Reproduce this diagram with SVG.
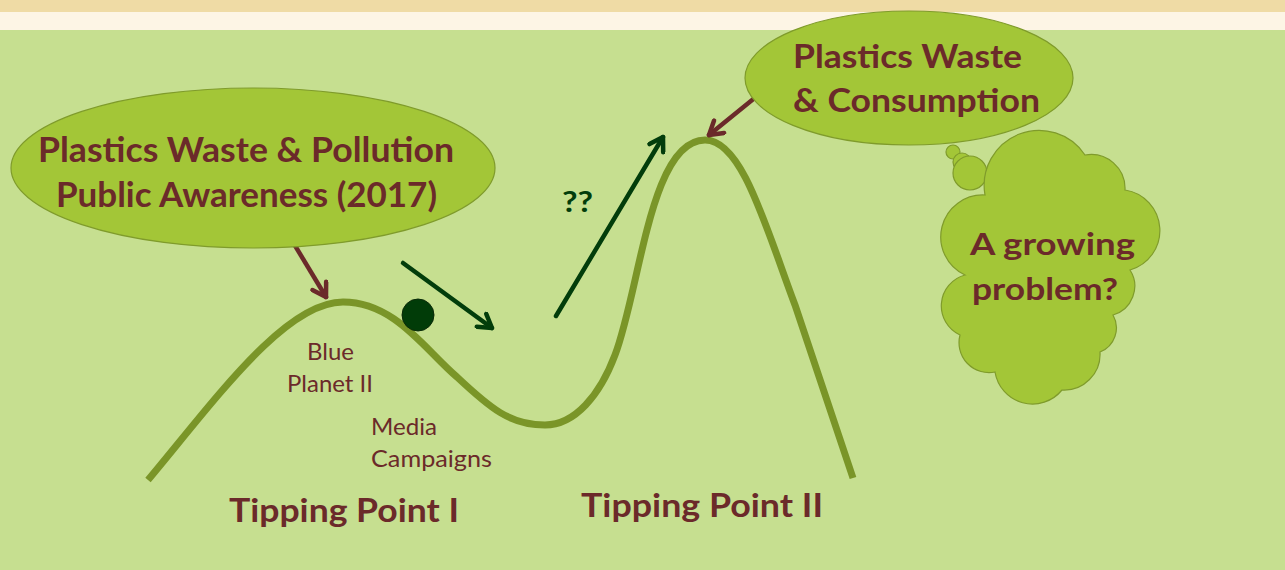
<svg xmlns="http://www.w3.org/2000/svg" width="1285" height="570" viewBox="0 0 1285 570">
<style>
.bubble{fill:#a3c637;stroke:#7f9b2b;stroke-width:1.2}
.lbl{font-family:Lato,"Open Sans",sans-serif;font-weight:bold;fill:#6b2a2a}
.small{font-family:Lato,"Open Sans",sans-serif;font-weight:normal;fill:#6b2a2a;font-size:23px}
.curve{fill:none;stroke:#7a9528;stroke-width:7;stroke-linecap:butt}
.darr{fill:none;stroke:#023d0b;stroke-width:4.5;stroke-linecap:round}
.marr{fill:none;stroke:#6b2a2a;stroke-width:4.5;stroke-linecap:round}
</style>
<defs>
<marker id="hd" viewBox="0 0 20 20" refX="17" refY="10" markerWidth="20" markerHeight="20" markerUnits="userSpaceOnUse" orient="auto">
<path d="M4,2 L17,10 L4,18" fill="none" stroke="#023d0b" stroke-width="4.5" stroke-linecap="round" stroke-linejoin="round"/>
</marker>
<marker id="hm" viewBox="0 0 20 20" refX="17" refY="10" markerWidth="20" markerHeight="20" markerUnits="userSpaceOnUse" orient="auto">
<path d="M4,2 L17,10 L4,18" fill="none" stroke="#6b2a2a" stroke-width="4.5" stroke-linecap="round" stroke-linejoin="round"/>
</marker>
</defs>
<g id="background">
<rect x="0" y="0" width="1285" height="570" fill="#c6df90"/>
<rect x="0" y="0" width="1285" height="30" fill="#fdf5e5"/>
<rect x="0" y="0" width="1285" height="12" fill="#efdba5"/>
</g>
<g id="connectors">
<path class="curve" d="M148,480 C215,400 285,302 343,302 C395,302 425,350 457,377 C490,408 510,425 545,425 C575,425 600,395 615,355 C640,290 650,140 705,140 C742,140 765,225 795,305 L853,478"/>
<line class="darr" x1="403" y1="263" x2="492" y2="328" marker-end="url(#hd)"/>
<line class="darr" x1="556" y1="316" x2="663" y2="137" marker-end="url(#hd)"/>
<line class="marr" x1="282" y1="224" x2="326" y2="297" marker-end="url(#hm)"/>
<line class="marr" x1="767" y1="88" x2="709" y2="135" marker-end="url(#hm)"/>
</g>
<g id="ball">
<circle cx="418" cy="315" r="16" fill="#013c08" stroke="#0a2a08" stroke-width="1"/>
</g>
<g id="awareness">
<ellipse class="bubble" cx="253" cy="168" rx="242" ry="80"/>
<text class="lbl" x="38" y="162" font-size="34" textLength="416" lengthAdjust="spacingAndGlyphs">Plastics Waste &amp; Pollution</text>
<text class="lbl" x="56" y="207" font-size="34" textLength="381" lengthAdjust="spacingAndGlyphs">Public Awareness (2017)</text>
</g>
<g id="consumption">
<ellipse class="bubble" cx="909" cy="78" rx="164" ry="67"/>
<text class="lbl" x="793" y="68" font-size="32" textLength="229" lengthAdjust="spacingAndGlyphs">Plastics Waste</text>
<text class="lbl" x="793" y="112" font-size="32" textLength="247" lengthAdjust="spacingAndGlyphs">&amp; Consumption</text>
</g>
<g id="cloud">
<circle class="bubble" cx="953" cy="152" r="7"/>
<circle class="bubble" cx="962" cy="162" r="9"/>
<circle class="bubble" cx="970" cy="173" r="17"/>
<path class="bubble" d="M985,195 A55,55 0 0 1 1085,155 A34,34 0 0 1 1125,190 A41,41 0 0 1 1130,270 A30,30 0 0 1 1113,315 A26,26 0 0 1 1100,352 A36,36 0 0 1 1062,390 A38,38 0 0 1 995,372 A30,30 0 0 1 960,335 A32,32 0 0 1 965,275 A42,42 0 0 1 985,195 Z"/>
<text class="lbl" x="970" y="255" font-size="31" textLength="165" lengthAdjust="spacingAndGlyphs">A growing</text>
<text class="lbl" x="972" y="300" font-size="31" textLength="146" lengthAdjust="spacingAndGlyphs">problem?</text>
</g>
<g id="labels">
<text x="562" y="212" font-family="Lato,'Open Sans',sans-serif" font-weight="bold" font-size="28" fill="#023d0b" textLength="31" lengthAdjust="spacingAndGlyphs">??</text>
<text class="small" x="307" y="360" textLength="47" lengthAdjust="spacingAndGlyphs">Blue</text>
<text class="small" x="287" y="392" textLength="86" lengthAdjust="spacingAndGlyphs">Planet II</text>
<text class="small" x="371" y="435" textLength="66" lengthAdjust="spacingAndGlyphs">Media</text>
<text class="small" x="371" y="467" textLength="121" lengthAdjust="spacingAndGlyphs">Campaigns</text>
<text class="lbl" x="229" y="522" font-size="32" textLength="230" lengthAdjust="spacingAndGlyphs">Tipping Point I</text>
<text class="lbl" x="581" y="517" font-size="32" textLength="242" lengthAdjust="spacingAndGlyphs">Tipping Point II</text>
</g>
</svg>
